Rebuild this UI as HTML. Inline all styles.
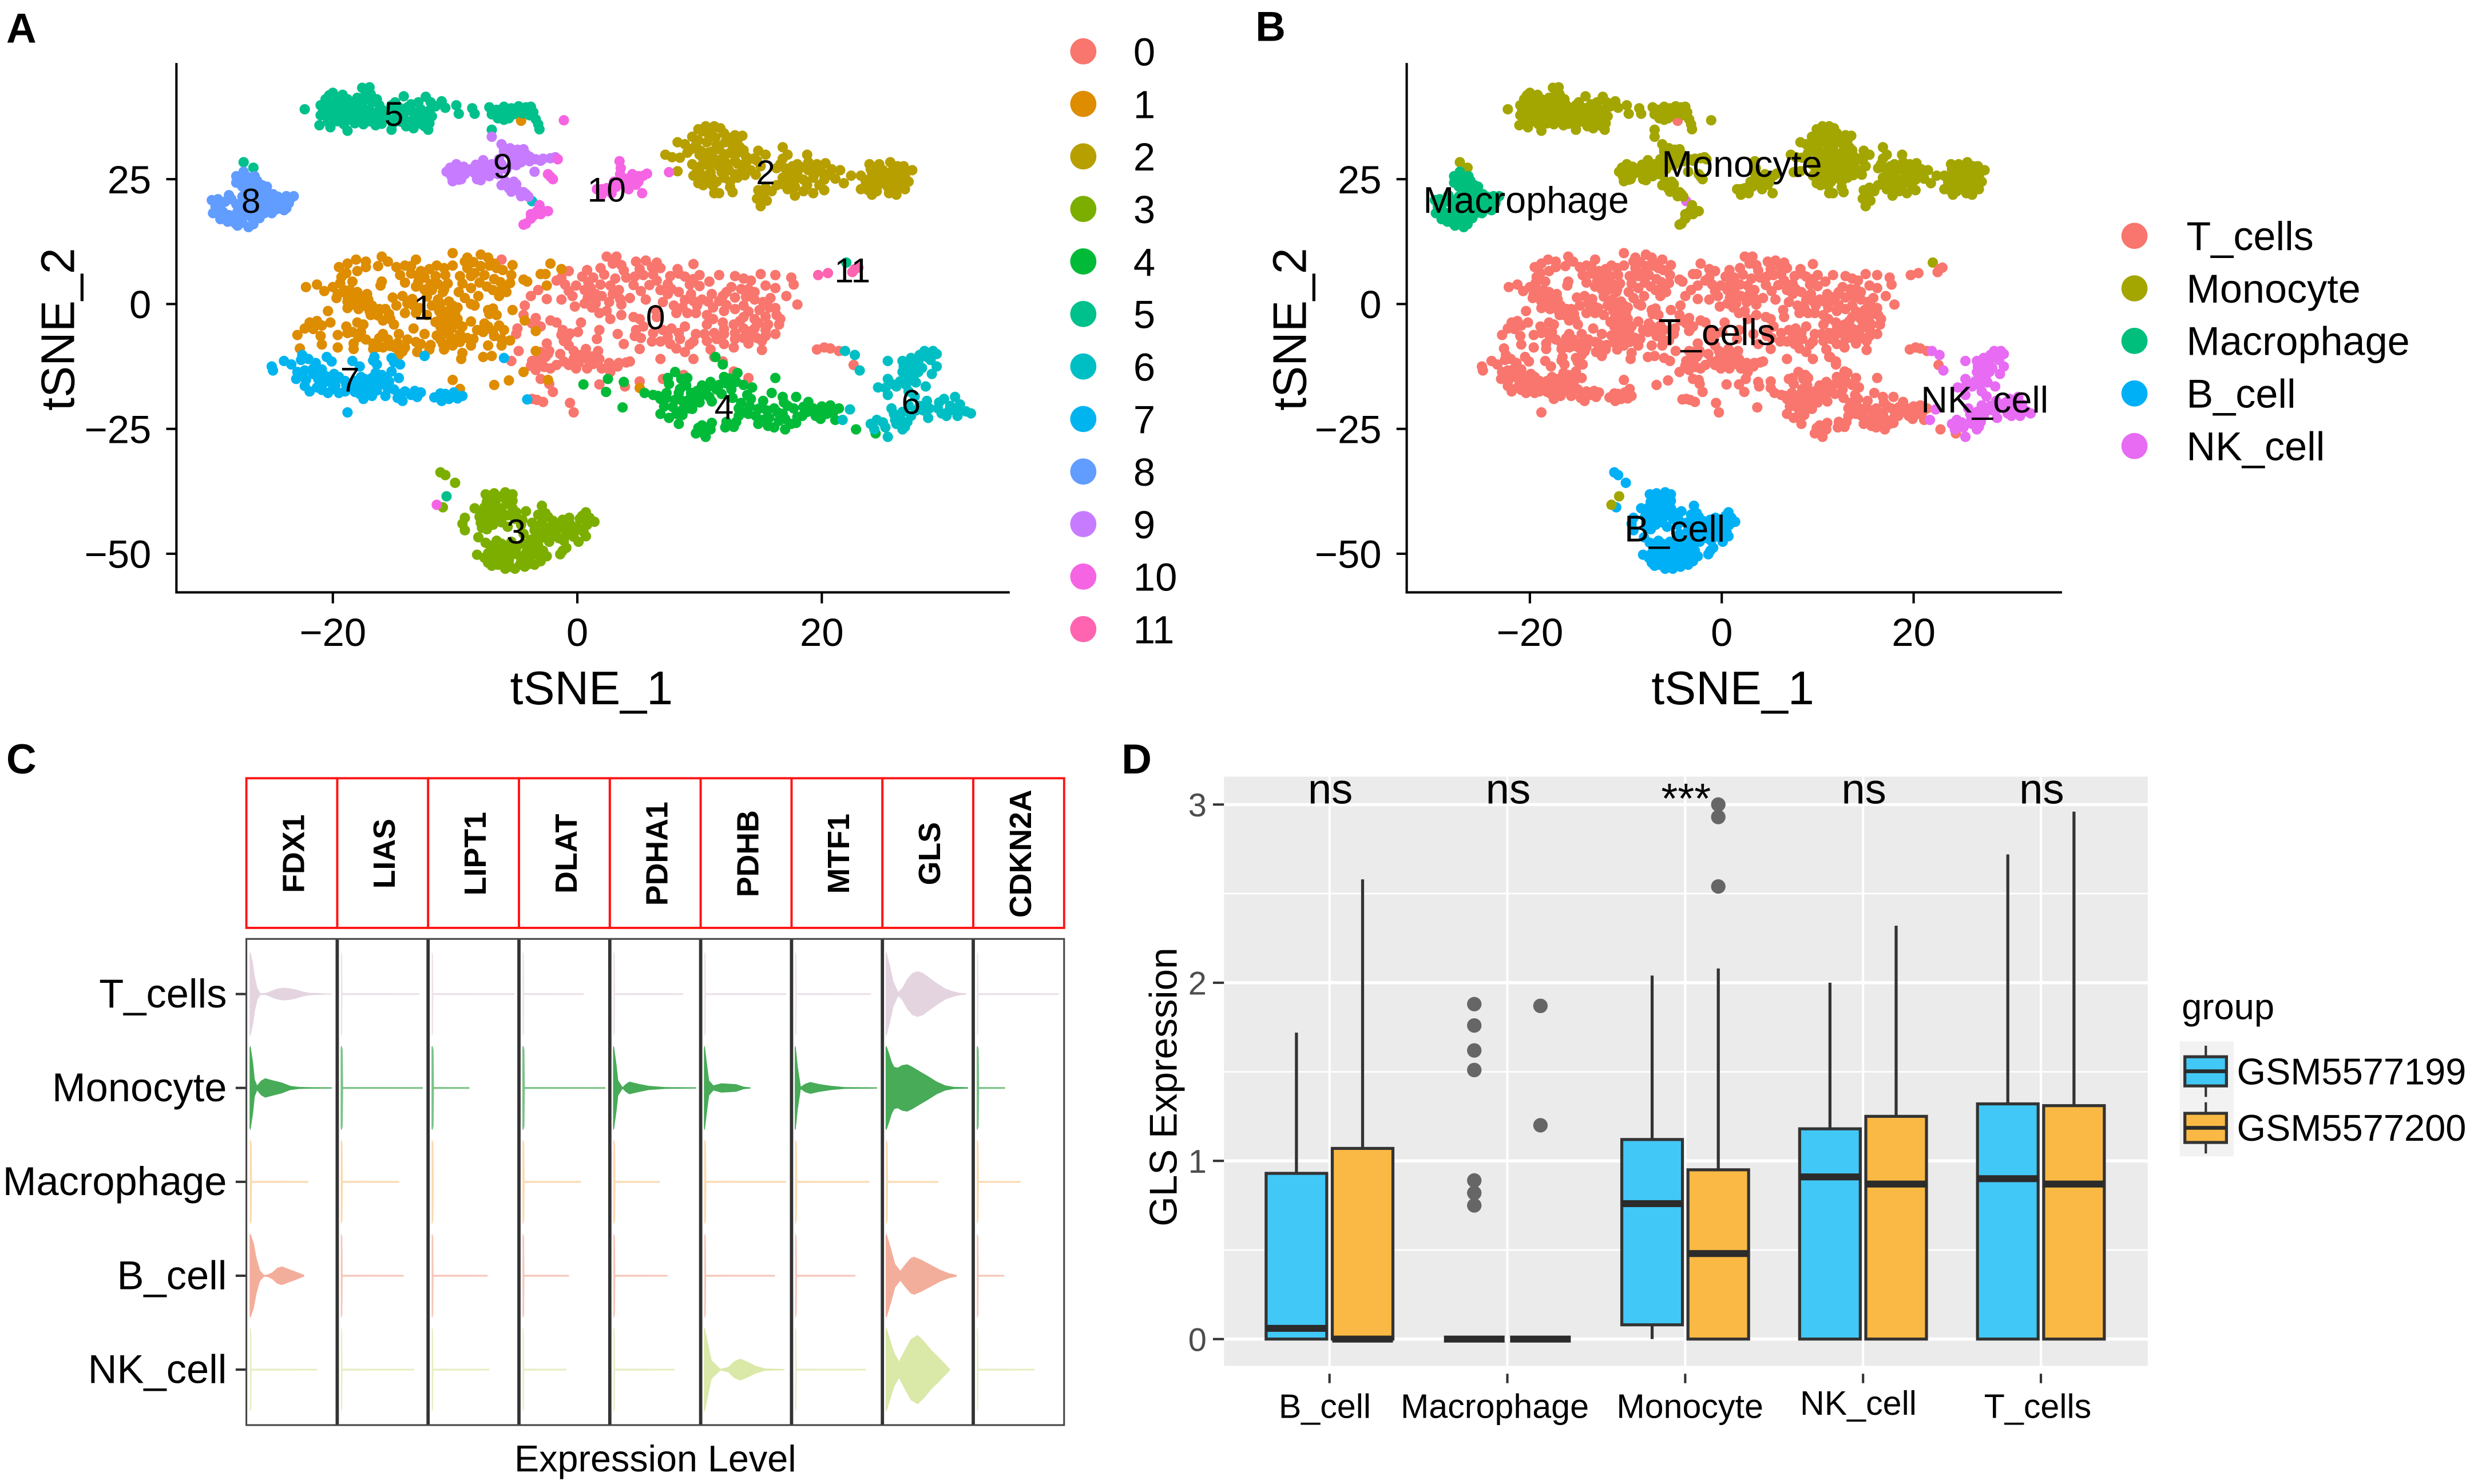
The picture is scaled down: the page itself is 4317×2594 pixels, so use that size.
<!DOCTYPE html>
<html lang="en">
<head>
<meta charset="utf-8">
<title>tSNE clusters, violin plots and GLS expression boxplot</title>
<style>
html,body{margin:0;padding:0;background:#fff;width:4317px;height:2594px;overflow:hidden}
svg{display:block}
text{font-family:"Liberation Sans",sans-serif;fill:#000}
.letter{font-weight:700;font-size:26.5px}
.title{font-size:30px}
.tick{font-size:25px}
.gene{font-weight:700;font-size:19.5px;text-anchor:middle}
</style>
</head>
<body>
<svg id="figure" xmlns="http://www.w3.org/2000/svg" width="4317" height="2594" viewBox="0 0 1568 942" preserveAspectRatio="none">
  <rect x="0" y="0" width="1568" height="942" fill="#fff"/>
  <text class="letter" x="4" y="27">A</text>
  <text class="letter" x="797" y="26">B</text>
  <text class="letter" x="4" y="491">C</text>
  <text class="letter" x="712" y="491">D</text>

  <g id="panelA">
    <line x1="112" y1="40" x2="112" y2="376.7" stroke="#000" stroke-width="1.5"/>
    <line x1="111.3" y1="376" x2="641" y2="376" stroke="#000" stroke-width="1.5"/>
    <text class="title" x="375.5" y="447" text-anchor="middle">tSNE_1</text>
    <text class="title" transform="translate(47,209) rotate(-90)" text-anchor="middle">tSNE_2</text>
  </g>
  <g id="panelB">
    <line x1="893" y1="40" x2="893" y2="376.7" stroke="#000" stroke-width="1.5"/>
    <line x1="892.3" y1="376" x2="1309" y2="376" stroke="#000" stroke-width="1.5"/>
    <text class="title" x="1100" y="447" text-anchor="middle">tSNE_1</text>
    <text class="title" transform="translate(829,209) rotate(-90)" text-anchor="middle">tSNE_2</text>
  </g>
  <g id="panelC">
    <text x="416" y="934" text-anchor="middle" font-size="23.5">Expression Level</text>
  </g>
  <g id="panelD">
    <text transform="translate(747,690) rotate(-90)" text-anchor="middle" font-size="24.5">GLS Expression</text>
    <text x="1385" y="647" font-size="23">group</text>
  </g>
</svg>
<script>
// ---------- tSNE data (in tSNE units) ----------
const cluster0Points=[[2.4,9.5],[3.2,9.5],[2.9,8.1],[3.6,7.8],[1.9,7.2],[4.8,8.5],[5.6,8.7],[6.5,8.3],[6.8,7.2],[6.1,7.4],[5.1,7],[8.2,7],[9.5,8],[10,5.8],[11.6,5.8],[10.8,4.5],[12.9,5.6],[13.6,5.1],[15,6],[14.2,4.7],[16.2,5.8],[17.5,5.3],[17.7,3.9],[16.2,3.2],[17.1,1.6],[18,-0.1],[15.4,3.7],[-0.7,6.6],[0.8,6.8],[1.3,5.3],[0.4,5.5],[-1.3,5.3],[-1.7,4.7],[-1,3.9],[-0.7,2.6],[-1.3,0.9],[-0.4,1.6],[-0.2,-0.5],[1.1,3.2],[0.85,1.25],[1.5,2],[2,1.6],[0.6,0.1],[1.5,0.1],[1.8,-1.8],[2.7,3.7],[2.9,2],[4,5.3],[3.4,2.8],[4.3,1.2],[3.6,-0.1],[4.7,5.5],[5.4,5.8],[5.2,2.6],[5.6,0.9],[6.5,4.7],[6.8,2.8],[7.6,5.6],[7.7,3],[8.8,5.5],[9.2,3.9],[8.3,2.4],[9.3,2],[10.2,0.9],[7.9,-0.3],[8.6,-0.7],[9.7,-1.8],[10.6,-2.2],[9,-1.8],[8.1,-1.8],[11,2],[11.9,1.6],[11.1,-0.7],[12.2,2.4],[12.9,1.3],[13.4,3],[14.5,2.4],[14.5,0.9],[15.7,-0.7],[12,-1.4],[12.9,-1],[13.6,-0.3],[14.9,-1.2],[16.3,-2.2],[13.6,-2.6],[14.5,-3],[16.5,-4.1],[15.6,-4.1],[11.1,-3],[11.9,-3.7],[10.6,-4.1],[12.8,-4.1],[13.6,-4.9],[14.5,-4.9],[16.2,-6],[15.4,-6.4],[14.7,-6.8],[14,-7.9],[15.1,-9.2],[13.6,-6.8],[12.9,-7],[12.8,-8.7],[12,-6],[11.2,-5.8],[12,-8],[9.7,-6],[10.4,-6],[9.5,-7.5],[9.2,-8.1],[10.9,-9.1],[11.9,-11.5],[9.5,-11],[8.8,-9.6],[6.8,-11],[5.1,-9],[8.1,-8.9],[7.6,-8],[6.8,-7.5],[6.1,-7.5],[8.8,-4.5],[8.3,-5.8],[7.7,-4.9],[7,-5.2],[4.7,-6.4],[5.4,-4.5],[5.1,-3],[2.7,-3],[3.6,-2.2],[4.6,-2.6],[6.5,-2.6],[3.3,-6],[3.8,-8],[1.8,-5.2],[1.6,-7],[-3.2,2.8],[-3.8,1.6],[-2.5,1],[-4.3,-0.3],[-4.4,-2.2],[-3.4,-2.8],[-3.7,-3.9],[-4.9,-4.9],[-5,-6],[-3,-4.5],[-2.2,-3.3],[-1.7,-3.7],[0.3,-3.7],[0.05,-5.6],[-1.2,-5.2],[-0.85,-6.8],[-0.7,-8.3],[-2.5,-7.9],[-2.3,-9.4],[-0.3,-9.4],[0.7,-9],[1.7,-9.4],[-4.8,-9.4],[-5.4,-11.4],[-3.7,-11.4],[-3.1,-12.1],[-2.6,-10.6],[-3.4,-13.2],[-2.2,-12.9],[-1.1,-11.5],[-0.3,-11],[-0.1,-12.9],[0.8,-12.9],[0.8,-11],[1.8,-11],[2,-12.9],[2.7,-13.6],[3.3,-12.5],[4,-11.7],[4.3,-11.5],[-3,-15],[-2.3,-16],[-2,-17.6],[5.1,-15.5],[1.8,-16.1],[3.9,-16.5],[7,-15],[8.7,-14.2],[11.9,-11.7],[14,-14.8],[12.8,-13.5],[11.2,-10.6],[-3.3,-19.2],[-2.8,-19.6],[-3.7,-19],[-0.6,-19.8],[-0.3,-21.7],[19.6,-9.1],[20.2,-8.7],[20.7,-8.9],[21.4,-9.4],[22.6,-12.2],[-6.2,8.9],[3.8,6.7],[2.2,5.9],[3.1,5.1],[1.9,3.9],[4.6,3.8],[5.9,3.8],[6.2,5.9],[7.4,4],[8.3,6.1],[9.5,5],[10,3.6],[9.5,0.6],[8.8,0.8],[9.8,-0.3],[7.4,2],[7,0.4],[6.4,-1.2],[10.7,0.5],[11.6,0.6],[12.6,3.4],[12.2,-0.2],[13.8,1.4],[14,3],[15.2,0.4],[15.8,1.2],[16.2,-0.8],[15.4,-2.5],[14,-1.5],[13.3,-3.4],[12,-5],[12.9,-5.8],[14,-5.5],[14.8,-3.8],[15.4,-5.2],[16.6,-3],[15.1,-7.4],[14.3,-6.1],[11.4,-7],[10.6,-7.4],[8.4,-7],[7.4,-6.6],[6.2,-5.8],[5.2,-6.8],[4.8,-5.2],[1.5,1.2],[0.6,2.8],[-0.1,3.7],[0.9,4.4],[1.2,-0.7],[3.5,1],[2.6,0.4],[2.4,-1.4],[-2.4,-10],[-1.7,-12.2],[-3,-9.6],[-3.2,-10.8],[-0.7,-12.2],[-1.4,-10],[0.3,-10.2],[1.2,-10.5],[1.3,-12],[0.1,-11.8],[2.6,-11.8],[3.4,-11.8],[-1.1,-7.4],[-0.6,-5.9],[-2.7,-12.6],[-3.8,-12.4],[-1.3,-6.2]];
const cluster1Points=[[-22.2,3.4],[-21.3,3.9],[-20.7,2.6],[-20,3.4],[-19.5,7.4],[-18.8,8.1],[-18.1,8.9],[-17.3,8.5],[-18.9,6.2],[-18,6.6],[-17.3,7.4],[-16,9.5],[-15.5,8.5],[-16.3,7.6],[-14.8,7.4],[-14.1,7.7],[-13.2,8.9],[-13.6,7.6],[-14.5,5.8],[-14.1,4.3],[-16,4.5],[-16.1,3.7],[-12.8,6.6],[-12.1,7],[-11.5,7.7],[-10.9,7.2],[-12.5,5.3],[-11.6,5.6],[-10.2,10.2],[-10.2,7.7],[-9,9.3],[-7.9,9.9],[-7.3,9.3],[-6.8,8.1],[-5.3,7.8],[-9,7.2],[-7.9,7.6],[-6.1,6.8],[-5.4,5.8],[-9.6,5.6],[-8.7,5.6],[-7.6,5.8],[-6.8,5],[-10.6,4.1],[-9.4,4.1],[-8,4.3],[-13.2,3.5],[-11.9,2.8],[-11,2.4],[-9.7,2.4],[-8.7,3.2],[-8.1,1.6],[-6.9,2.8],[-5.8,2.4],[-6.4,1.6],[-4.4,4.9],[-4.1,4.5],[-3,6],[-2.6,6],[-2.2,8.1],[-1.3,7],[-2.5,3.7],[-19.1,2.8],[-18.6,2.8],[-18,2.4],[-17.2,2],[-19.7,1.2],[-18.8,0.5],[-17.9,0.5],[-17.1,0.9],[-20.4,-1.4],[-18.8,-0.8],[-17.9,-1],[-17,-1.4],[-16.2,-1],[-15.4,-2],[-15.9,-3.3],[-15.1,1.3],[-14.3,1.6],[-14.8,-0.3],[-13.9,0.1],[-13.4,-0.3],[-14.1,-1.8],[-13.2,-1.8],[-12.3,-2.2],[-11.4,0.9],[-10.5,0.5],[-9.8,-0.7],[-11.2,-3],[-10.5,-2.6],[-9.8,-3],[-11.3,-1.4],[-8.7,0],[-8.4,-0.3],[-6.9,-0.9],[-7.2,-2],[-6.6,-2.2],[-5.3,-1.2],[-8.7,-3.5],[-9.4,-4.5],[-10.3,-4.9],[-11.2,-4.5],[-21.9,-3.7],[-20.2,-3.7],[-20.9,-4.3],[-22.3,-4.9],[-22.9,-6.2],[-21,-6.4],[-20.9,-8.1],[-22.7,-8.9],[-19.6,-8.7],[-19.6,-6.2],[-18.9,-4.5],[-18,-3.7],[-17.5,-4.1],[-18.4,-5.6],[-17.7,-5.6],[-18.3,-7.9],[-18.3,-9],[-17.3,-7.1],[-16.7,-7.9],[-16.7,-9],[-15.9,-6],[-15.5,-7.1],[-15.9,-8.7],[-15,-4.1],[-14.6,-6],[-14.9,-8.7],[-14.6,-10.2],[-13.9,-7.1],[-14.1,-8.7],[-13.4,-4.9],[-12.5,-6],[-12.8,-8],[-13.1,-9.6],[-12.1,-9.1],[-11.2,-7.1],[-10.3,-6.8],[-9.6,-6],[-10.9,-9.1],[-10.2,-8.3],[-9,-6.8],[-8.7,-8.3],[-9.4,-9.8],[-9.5,-11],[-7.3,-4.5],[-7.7,-5.6],[-6.8,-6.4],[-6,-5.2],[-5.5,-7.3],[-7.3,-8.3],[-7.7,-10.6],[-7,-10.4],[-6.2,-8.3],[-8.2,-5.2],[-8.5,-7],[-3.4,-9.4],[-3.4,-5.4],[-4.4,-13.6],[-5.6,-15.3],[-6.8,-16.2],[-10.2,-15.2],[-9.6,-17],[-2.4,-15.2],[-4.3,-3.3],[5.1,-16.8],[-4.6,36.7],[-19.3,5.4],[-18.4,4.5],[-19.4,4.2],[-19.6,2],[-18.8,1.5],[-18.2,1.4],[-17.7,1.2],[-18.4,-0.1],[-17.5,-0.3],[-16.8,-0.3],[-16.9,-2.2],[-16.3,-2.3],[-15.7,-1],[-15.3,-3],[-13.6,6.1],[-13,5.6],[-13,4.5],[-12,4],[-10.8,5.8],[-11.4,4],[-10.9,2.9],[-12.5,2.9],[-12.3,1.5],[-13.5,1],[-12.9,-0.8],[-11.9,-0.3],[-11.2,0.1],[-10.2,-0.3],[-10.7,-1.5],[-10,-1.8],[-10.8,-3.8],[-10,-4.1],[-11.6,-3.6],[-9.6,-7.6],[-10.4,-7.7],[-11,-8],[-11.5,-6.3],[-10.8,-5.9],[-12,-8.2],[-9.2,8.5],[-8.5,8.4],[-8.4,6.2],[-7.2,7.7],[-6.6,7.2],[-6.3,4.4],[-5.9,3.5],[-5.5,4.2],[-6.2,2.8],[-7.4,3.5],[-9.2,1.2],[-7.3,-1.2],[-7.6,-3.9],[-6.4,-4.3],[-6.9,-5.4],[-6.2,-7],[-16.3,-8.6],[-15.3,-8.4],[-16.2,-6.8],[-14.7,-7.8],[-14.3,-9.5],[-13.2,-7.6],[-17.9,-6.6],[-18.8,-5.8],[-21.6,-5],[-21.3,-3.4]];
const cluster2Points=[[7.2,29.9],[7.75,29.4],[8.4,29.3],[8.2,26.6],[9.9,35],[10.5,35.6],[11.2,35.6],[11.7,35.2],[13.5,33.7],[12.5,33.3],[13.1,32.8],[9.4,33.5],[8.2,32.4],[8.8,32],[9.7,31.8],[10.7,34.1],[11.3,33.3],[11.4,31.8],[10.1,30.7],[10.7,30.3],[11.6,31],[12.7,31.8],[13.3,31.4],[12.5,30.3],[13.1,30.3],[9,30.3],[13.8,29.5],[14.8,30.7],[15.4,29.9],[14.4,29.1],[10.3,29.1],[11.2,29.1],[12,29.1],[12.9,28.7],[9.4,28],[10.1,27.6],[10.8,27.6],[11.6,27.6],[12.3,28],[13.5,27.2],[14.2,26.8],[15,27.6],[9.5,25.7],[10.3,25.7],[11,25.3],[11.8,26.4],[12.9,26],[9.9,24.2],[10.5,24.9],[11.4,24.5],[12.5,24.5],[13.1,25.3],[12.5,23.4],[12.7,22.4],[11.2,22.2],[11.6,22.2],[16.8,31.4],[17.2,29.9],[16.8,29.1],[18.8,29.9],[16.3,27.2],[17,27.2],[18,28],[18.9,28.4],[19.6,28],[20.3,28.2],[18,26.4],[18.9,26.8],[20,26.4],[16.8,25.3],[17.6,24.5],[18.5,24.9],[19.3,25.3],[20.2,24.9],[16.3,23.8],[17.2,23],[17.8,21.7],[18.5,22.6],[19.3,22.2],[20.2,22.8],[15.9,22.6],[14.8,22.8],[14.7,21.1],[15.5,20.7],[15,19.6],[15.2,21.9],[21.1,25.1],[21.5,26.8],[21.8,24.2],[22.4,25.7],[23.9,28],[25.6,28.4],[26.7,27.6],[27.4,26.8],[23.2,25.7],[24.1,26.4],[25,26.8],[25.8,26.8],[26.8,25.7],[23.2,23],[24.1,23.8],[24.1,21.9],[25,24.5],[24.5,22.6],[26.1,21.9],[26.8,23],[25.8,24.2],[26.5,24.2],[27.1,24.5],[23.6,24.5],[24.7,28],[26.2,27.6],[10.2,34.6],[11,34.8],[12,34.2],[12.9,33.8],[9.9,32.8],[10.6,32.4],[12.1,32.4],[12.6,32.8],[9.3,31],[10,29.9],[11,30.5],[12,30],[13.6,30.8],[11.7,28.8],[10.6,28.6],[9.8,26.8],[10.9,26.4],[12.4,26.8],[13.1,28.1],[13.8,28.3],[14.7,28.7],[14.6,25.9],[13.7,25.8],[12,25.3],[10.3,23.8],[11.1,23.7],[16.6,28],[17.6,27.6],[18.4,27.4],[19.3,27.3],[17.5,26.2],[19.4,26.1],[20.7,25.9],[17.3,25.6],[18.1,25.3],[19.8,23.8],[18.8,23.8],[17.8,23.5],[16.8,24],[15.4,23.3],[20.8,27],[24.6,27.2],[25.2,25.8],[24.6,25.3],[23.9,25],[25.6,25.3],[26.2,25.9],[26.9,26.6],[25.4,23.4],[24.7,24],[23.8,22.8],[26.1,23],[25.5,22.2],[26.4,24.8],[24,27]];
const cluster3Points=[[-11.2,-33.7],[-10.8,-34.25],[-10,-35.8],[-11,-40.7],[-7.5,-38.1],[-6.8,-37.9],[-5.9,-37.7],[-5.3,-38.1],[-7.4,-39.6],[-6.7,-39.6],[-5.9,-39],[-5.3,-39.4],[-8.4,-40.9],[-7.8,-41.9],[-7,-41.5],[-6.2,-40.9],[-4.2,-41.5],[-5,-41.7],[-5.7,-42.3],[-6.7,-43],[-7.4,-43.4],[-7.9,-43.8],[-7.4,-45.1],[-9.2,-42.8],[-9.4,-44],[-9.2,-45.3],[-8.1,-46.7],[-8.2,-50.2],[-5.7,-44.6],[-2.9,-40.4],[-2.6,-41.9],[-3.7,-43.8],[-2.9,-43.8],[-2,-43.4],[-1.2,-43.2],[-0.66,-42.8],[0.7,-41.7],[0.2,-43],[1.4,-43.6],[0.8,-44.2],[-0.1,-45.3],[-0.7,-46.1],[-1.7,-45.3],[-2.6,-45.7],[-3.5,-45.3],[-2.3,-47.6],[-1.5,-46.9],[0.1,-47.6],[0.7,-46.5],[-0.9,-48.8],[-1.4,-50.1],[-2.5,-50.5],[-7.1,-48.4],[-6.2,-48],[-5.4,-47.6],[-7.3,-49.9],[-6.7,-49.5],[-5.9,-49.9],[-5,-48.8],[-4,-48.6],[-3.2,-48.4],[-7.3,-51.8],[-6.5,-52.2],[-5.9,-53],[-5.1,-53],[-4.3,-52.6],[-3.5,-52.2],[-3.2,-50.3],[-5.6,-51.4],[-4.6,-51],[-3.9,-50.7],[-6.4,-50.7],[-4.4,-46],[-3.3,-46.6],[-4.6,-44.2],[-1,-44.8],[-6.6,-51.2],[-6.9,-50.8],[-7,-38.8],[-6.2,-38.5],[-5.6,-40],[-6.9,-40.6],[-7.6,-40.7],[-8,-42.6],[-7.1,-42.4],[-6.3,-42],[-5.3,-40.9],[-6.9,-44.2],[-7.8,-44.8],[-6.2,-43.7],[-5.1,-43],[-4.5,-43.2],[-3.2,-42.2],[-2.4,-42.6],[-3.3,-45],[-2.2,-44.6],[-1.5,-44.2],[-0.6,-44],[0,-44.6],[0.4,-42.4],[1,-42.8],[-0.3,-46.6],[-1.1,-47.4],[-1.9,-46.3],[-2.9,-46.8],[-3.8,-47.2],[-0.9,-45.6],[0.5,-45.6],[-6.6,-47.4],[-7.5,-47.8],[-7.6,-50.8],[-7,-52.4],[-6.1,-52],[-5.5,-52.6],[-4.7,-52.2],[-3.9,-52],[-3,-51.5],[-3.2,-49.4],[-4.2,-49.8],[-5,-50],[-5.5,-50.5],[-6.1,-48.9],[-6.9,-49],[-3.6,-49.6],[-2.8,-49.4],[-4.4,-48],[-5.7,-49],[-1.2,-49.4]];
const cluster4Points=[[0.5,-16.1],[2.35,-17.6],[3.7,-20.7],[2.5,-15],[3.8,-15.6],[11.3,-10.6],[11.9,-12.1],[8,-13.6],[7.4,-14.8],[7.5,-16],[9,-14.8],[8.9,-16.3],[13.1,-13.8],[12,-14.6],[16.2,-14.8],[5.5,-17.8],[6.2,-18.2],[7.3,-17.8],[6.8,-19],[7.1,-20.5],[8.3,-17.8],[8.6,-19.4],[9.6,-19.4],[10.2,-16.3],[10.9,-15.6],[11.4,-17.1],[10.2,-18.2],[12.2,-15.9],[13,-15.6],[14.3,-16.7],[13.9,-18.2],[12.7,-18.8],[9.1,-20.9],[8.1,-22],[6.8,-22],[7.5,-22.8],[8.3,-24],[10.2,-24.3],[9.7,-25.9],[10.5,-26.6],[10.9,-25.1],[12.1,-24.7],[12.2,-23.6],[13,-23.6],[13.2,-20.9],[14.1,-20.5],[14.6,-22.4],[13.6,-21.7],[15.9,-17.8],[15.2,-19.4],[16.8,-18.6],[16.9,-19.7],[17.9,-18.6],[16.1,-20.9],[15.7,-22.8],[16.1,-24.7],[17,-25.1],[17.5,-24],[16.8,-22],[17.7,-20.9],[18.9,-19.6],[18.4,-22.4],[19.3,-20.9],[20,-20.5],[20.7,-20.3],[21.4,-20.9],[20.4,-22],[21.1,-23.2],[19.5,-22.4],[15.5,-21.3],[14.8,-24],[22.8,-25.1],[24.4,-25.9],[9.8,-17.4],[11,-19.5],[8.6,-21.2],[8.5,-15],[8.4,-17],[9.3,-17.8],[9.2,-19],[8,-19.2],[7.8,-20.6],[7.3,-18.8],[6.6,-18.4],[10,-17.2],[10.6,-16.8],[11,-16.4],[11.6,-16.2],[12.4,-14.9],[12.6,-17.1],[11.8,-18],[10.8,-18.6],[10,-19.7],[9.4,-21],[8.6,-22.2],[13.6,-16.2],[13.4,-19.8],[14.2,-19],[14.8,-21],[14,-22],[13.2,-22.4],[12.8,-24.6],[15,-20.8],[15.2,-23.2],[15.6,-24.4],[16.5,-23.4],[16.4,-21.7],[17.2,-20.4],[17,-23],[18,-22.6],[18.5,-20.6],[18.8,-21.6],[19.9,-21.2],[20.7,-21.6],[19.9,-23],[21,-21.4],[10,-25.2],[9.9,-24.8],[11,-23.8],[10.4,-26.1],[17.9,-23.8]];
const cluster5Points=[[-22.3,39],[-17.6,43.3],[-17,43.4],[-20,42.3],[-19.2,41.9],[-20.6,41],[-19.8,40.8],[-18.8,41],[-18,41.3],[-17.4,41.6],[-16.8,40.5],[-16.2,39.8],[-21,39.8],[-20.5,39.5],[-19.7,39],[-18.9,39.5],[-18.2,39.8],[-17.6,39.8],[-17,38.9],[-15.9,38.8],[-15.2,39.8],[-14.6,39.4],[-14.2,41.6],[-13.6,40],[-13,40.4],[-12.4,41.5],[-12,40.4],[-11.6,39.6],[-11.1,40.6],[-10.8,39.3],[-12.8,39],[-13.5,38.6],[-14.2,38],[-21,37.8],[-20.3,37.5],[-19.8,37.8],[-19.2,37.6],[-18.4,38],[-17.8,37.4],[-17,37.4],[-16.3,37],[-15.6,37.4],[-15,37],[-14.4,36.5],[-13.4,37],[-12.6,37.4],[-11.9,37.6],[-21.1,35.8],[-20.2,35.4],[-18.8,34.7],[-19.1,36],[-18.2,36.2],[-17.5,36],[-16.5,35.8],[-15.2,34.9],[-14,35.6],[-13.4,35.2],[-12.2,34.9],[-12.7,36],[-12.1,36.2],[-9.9,39.8],[-9.7,38.1],[-8.6,39.2],[-8.4,38.1],[-7.2,39.4],[-6.6,38.9],[-6,39.5],[-5.4,39.2],[-4.8,39.6],[-4.2,39.4],[-3.8,39.5],[-7,38],[-6.5,37.2],[-5.9,37.8],[-5.2,38],[-4.5,38.2],[-3.9,37.8],[-3.4,37],[-3.2,36],[-3.1,35],[-7,34.9],[-27.3,28.4],[-26.5,27.3],[22,8.3],[-10.7,-38.5],[-20.8,38.6],[-20,38.7],[-19.3,38.5],[-18.6,38.8],[-17.9,38.7],[-17.3,38.4],[-16.5,38.2],[-15.6,38.4],[-14.8,38.5],[-14.9,40.4],[-13.9,39.4],[-13,37.9],[-12.2,38.6],[-11.9,39.4],[-20.2,40.2],[-19.2,40.4],[-18.4,40.2],[-17.6,40.6],[-16.4,41],[-16.9,42],[-20.3,41.8],[-20.4,36.5],[-19.6,36.6],[-18.6,36.9],[-17,36.6],[-16,36.1],[-15.1,36.1],[-14.1,36.9],[-13.2,36.1],[-12.5,35.6],[-6.8,38.6],[-6.2,38.2],[-5.6,38.4],[-4.9,38.7],[-4.2,38.6],[-5.6,37.2],[-6,36.9],[-3.6,38.4]];
const cluster6Points=[[22.3,-21.1],[21.7,-23.2],[21.9,-9.4],[22.7,-10.2],[23.1,-13.3],[25.4,-11.4],[29.1,-9.4],[28.4,-9.4],[29.4,-10],[28.6,-10.6],[27.3,-10.8],[26.6,-11.4],[27.9,-11.4],[26.7,-12.5],[27.4,-12.1],[29.4,-12.5],[29,-14],[26.6,-13.6],[27.9,-13.6],[27.1,-14.6],[25.4,-15],[24.6,-16.7],[26.1,-16.5],[25.4,-18.2],[27.7,-15.7],[28.5,-16.5],[27.1,-17.5],[28.6,-19.4],[28.8,-20.9],[30,-19],[30.9,-18.6],[31.3,-20.1],[32.2,-21.9],[31.8,-21.5],[31.1,-22.4],[30.2,-22.4],[28.7,-22.8],[29.5,-20.9],[27.7,-21.3],[27.3,-22.4],[26.6,-25.1],[27,-23.6],[25.9,-22],[26.1,-24],[25.2,-24.7],[25.4,-26.6],[24.5,-23.2],[24,-24],[24.3,-25.1],[25.7,-20.9],[-3.7,20.6],[28,-10.2],[28.9,-11.2],[27.5,-12.8],[28.2,-12.8],[26.9,-13.4],[27.5,-14.8],[26.4,-15.5],[26.9,-16.2],[25.7,-16],[25.2,-16.8],[27.6,-18.5],[28,-20.4],[28.3,-21.3],[29.6,-19.7],[30.5,-20.4],[30.4,-21.4],[29.8,-21.9],[31,-21],[27.1,-20.3],[26.6,-21.6],[26.4,-22.8],[26,-23.2],[25,-23.7],[26.8,-24.6]];
const cluster7Points=[[-25,-12.5],[-24.9,-13.3],[-24,-11.4],[-23.4,-12.1],[-22.5,-10.2],[-22,-11],[-22.9,-13.6],[-22.3,-13.3],[-21.6,-12.9],[-20.9,-13.1],[-20.5,-10.6],[-20.1,-11.5],[-23,-15],[-22.2,-15.2],[-21.9,-17.5],[-20.9,-16.3],[-20.2,-15.2],[-19.5,-14.6],[-20.4,-17.8],[-19.5,-17.8],[-18.9,-16.3],[-18.4,-11.4],[-17.8,-12.5],[-17.7,-14.6],[-18,-16.9],[-17.5,-19],[-17.3,-16.7],[-16.6,-10.6],[-16.4,-12.1],[-15.2,-10.8],[-14.5,-12.1],[-15.2,-13.5],[-14.6,-14.8],[-16,-14.2],[-16.8,-14.8],[-15.9,-16],[-16.8,-18.4],[-15.7,-18.4],[-15,-17.1],[-14.3,-19.4],[-14.1,-17.5],[-13.6,-18.2],[-12.8,-17.7],[-11.1,-19.4],[-11.2,-17.9],[-10.5,-19],[-10.1,-17.7],[-9.4,-18.4],[-18.8,-21.7],[-16.6,-16.3],[-19.8,-16.3],[-20.5,-15.5],[-21.3,-16.7],[-18.6,-16.7],[-6,-10.8],[-4.1,-19.1],[-12.5,-10.4],[-22.6,-11.2],[-21.4,-11.8],[-22.8,-14.4],[-21.6,-14],[-22.3,-16.4],[-20.6,-14.4],[-21.2,-15],[-19.9,-14],[-19.8,-15.4],[-20,-17],[-20.9,-17.2],[-19,-15.4],[-19,-17.5],[-18.2,-15.4],[-17.7,-16],[-17.4,-15],[-17,-15.7],[-16.5,-13.8],[-16.2,-15.4],[-15.6,-14.8],[-15.4,-15.5],[-16.4,-17.3],[-17,-17.8],[-17.8,-18],[-18.2,-17.6],[-15.5,-17],[-14.6,-18],[-13.3,-17.4],[-13.1,-18.6],[-14.7,-18.8],[-11.7,-18.7],[-10.8,-18],[-9.8,-18.9],[-16.7,-11.3],[-15,-11.6]];
const cluster8Points=[[-27.3,26.5],[-27.7,25],[-27,25.5],[-26.8,24.3],[-26.2,24.7],[-25.8,23.8],[-26.5,23],[-25.5,22.5],[-27.4,23.5],[-26,22],[-25.6,21],[-25,20.8],[-24.5,21.5],[-24.1,20],[-23.5,21],[-23.2,21.6],[-23.8,19.2],[-24.6,19],[-25.2,19.5],[-26.2,20.5],[-26.5,19],[-25.6,18.2],[-29.9,20.8],[-29.4,21],[-28.8,20.5],[-28.3,21],[-27.9,20],[-29.6,19.5],[-29.8,18.2],[-29,18.5],[-28.5,17.8],[-27.8,18.5],[-27.2,17.8],[-26.6,17.2],[-29.2,17],[-28.6,16.5],[-28,16.2],[-27.4,16.3],[-26.9,15.4],[-26.5,16],[-27.6,19],[-26.9,20.5],[-27.4,21.5],[-26.7,22],[-25.9,19],[-27.9,25.6],[-27.2,24.6],[-26.4,25.6],[-27.9,24.3],[-26,23.2],[-25.4,23.5],[-26.8,23.6],[-25.2,21.8],[-24.6,20.4],[-24.9,22],[-23.8,21.6],[-23.6,20.2],[-24,18.8],[-25,18.2],[-26,19.8],[-26.4,21.4],[-26,17.2],[-27,19.2],[-27.2,20.2],[-28,17.4],[-28.8,17.4],[-29.5,18.9],[-28.5,21.8],[-29.2,20],[-27.5,17],[-27.8,15.7],[-26.4,18.3]];
const cluster9Points=[[-10.7,26.5],[-10.3,25.6],[-10.1,27],[-9.8,26],[-9.9,28],[-9.5,25],[-9.2,26],[-9.3,27.5],[-10.2,24.6],[-8.7,27],[-8.2,25],[-8,27.5],[-7.8,26],[-7.7,28.8],[-7.4,27],[-7.2,25.6],[-6.9,26.5],[-6.5,26],[-6.6,27.5],[-6.4,29],[-5.8,27],[-6,30.5],[-5.5,31.2],[-6.2,32],[-5.4,29.6],[-5,29.3],[-4.7,30.5],[-4.4,31],[-4.2,30],[-3.9,29.5],[-5.3,28],[-4.6,28.4],[-3.4,29],[-2.8,29.1],[-2.2,29.2],[-1.8,29.4],[-3.5,26.5],[-7,33.5],[-6.2,23.8],[-5.6,23.2],[-5,24],[-5.4,22.5],[-4.8,22.6],[-4.4,22.4],[-4.6,21.6],[-4,21.5],[-5.9,24.6],[-10.4,27.3],[-9.6,27],[-9.7,24.9],[-8.4,26.2],[-7.9,24.8],[-8.3,27.9],[-7,28],[-6.2,28],[-5,27.8],[-5.6,30],[-4.9,30.9],[-6,31],[-3.9,28.6],[-3,28.7],[-5,22.9],[-4.2,22],[-5.7,24],[-5.2,24.5]];
const cluster10Points=[[3.45,28.6],[3.55,27.2],[4.5,26],[5.7,26.1],[5.4,25.7],[5,24.5],[4.3,23.8],[3.7,24.2],[5.3,22.2],[3,24.5],[2,23],[1.6,23],[2.4,23.2],[2,21.9],[2.8,22.2],[7.5,26.4],[4.1,25.1],[4.7,25.1],[4.2,23],[-2.2,25.5],[-2,25],[-2.4,26],[-1.6,29],[-3.1,19.8],[-2.4,18.6],[-2.9,18.8],[-3.6,17.7],[-4.2,16.1],[-4.4,15.9],[-3.8,17.1],[-3.3,18.6],[-1.1,36.8],[-11.5,-40.2],[3.2,23.5],[3.6,25],[4.5,24.6],[5,25.6],[2.8,23.2],[1.9,22.6],[4.8,23.9],[3.5,26],[-3,18],[-3.8,18]];
const cluster11Points=[[19.7,5.8],[20.5,6.2],[22.7,7],[23,7.3],[22.5,6.4]];
const clusterPoints=[cluster0Points,cluster1Points,cluster2Points,cluster3Points,cluster4Points,cluster5Points,cluster6Points,cluster7Points,cluster8Points,cluster9Points,cluster10Points,cluster11Points];
const clusterNames=['0','1','2','3','4','5','6','7','8','9','10','11'];
const clusterColors=['#F8766D','#DE8C00','#B79F00','#7CAE00','#00BA38','#00C08B','#00BFC4','#00B4F0','#619CFF','#C77CFF','#F564E3','#FF64B0'];
const clusterLabelX=[6.4,-12.6,15.4,-5,12,-15,27.3,-18.6,-26.7,-6.1,2.4,22.5];
const clusterLabelY=[-2.5,-0.6,26.5,-45.4,-20.5,38.2,-19.5,-15,20.8,27.8,23,6.9];
const cellTypeNames=['T_cells','Monocyte','Macrophage','B_cell','NK_cell'];
const cellTypeColors=['#F8766D','#A3A500','#00BF7D','#00B0F6','#E76BF3'];
const clusterCellType=[0,0,1,3,0,1,4,0,2,1,1,0];
const cellTypeLabelX=[-0.5,2.1,-20.4,-4.9,27.4];
const cellTypeLabelY=[-5.7,28,20.8,-45,-19.2];
const tsneXTicks=[-20,0,20];
const tsneYTicks=[25,0,-25,-50];

// ---------- violin data ----------
const geneNames=['FDX1','LIAS','LIPT1','DLAT','PDHA1','PDHB','MTF1','GLS','CDKN2A'];
const violinRowNames=['T_cells','Monocyte','Macrophage','B_cell','NK_cell'];
const violinRowColors=['#E4D4E0','#47AB58','#F9CB92','#F3AE9B','#DAE8A8'];
const tCellMax=[0.94,0.90,0.95,0.70,0.80,0.94,0.87,0.92,0.94];
const monocyteMax=[0.94,0.94,0.43,0.95,0.95,0.53,0.94,0.94,0.32];
const macrophageMax=[0.67,0.67,0,0.67,0.53,0.94,0.85,0.6,0.5];
const bCellMax=[0.62,0.72,0.64,0.53,0.62,0.81,0.69,0.81,0.31];
const nkCellMax=[0.77,0.84,0.66,0.50,0.70,0.92,0.81,0.73,0.66];
const violinMax=[tCellMax,monocyteMax,macrophageMax,bCellMax,nkCellMax];
const spikeThickness=[0.010,0.016,0.014,0.012,0.010];
const fdx1TShape=[[-0.01,0.96],[0,1],[0.03,0.72],[0.05,0.42],[0.08,0.14],[0.115,0.02],[0.16,0.02],[0.2,0.04],[0.28,0.11],[0.34,0.14],[0.39,0.15],[0.46,0.135],[0.52,0.11],[0.6,0.06],[0.68,0.03],[0.84,0.016],[0.94,0.01]];
const fdx1MonoShape=[[-0.01,0.96],[0,1],[0.03,0.6],[0.05,0.2],[0.077,0.06],[0.12,0.17],[0.17,0.23],[0.26,0.18],[0.36,0.13],[0.46,0.05],[0.56,0.025],[0.68,0.018],[0.94,0.014]];
const fdx1BShape=[[-0.01,0.96],[0,1],[0.04,0.76],[0.07,0.42],[0.11,0.13],[0.157,0.02],[0.2,0.03],[0.25,0.08],[0.31,0.19],[0.365,0.22],[0.44,0.16],[0.52,0.1],[0.58,0.05],[0.62,0.02]];
const pdha1MonoShape=[[-0.01,0.96],[0,1],[0.03,0.55],[0.05,0.18],[0.1,0.02],[0.14,0.1],[0.18,0.15],[0.28,0.1],[0.4,0.05],[0.6,0.02],[0.95,0.014]];
const pdhbMonoShape=[[-0.01,0.96],[0,1],[0.03,0.5],[0.05,0.18],[0.1,0.06],[0.19,0.11],[0.28,0.1],[0.36,0.09],[0.45,0.03],[0.53,0.012]];
const pdhbNKShape=[[-0.01,0.96],[0,1],[0.04,0.6],[0.08,0.22],[0.18,0.02],[0.27,0.06],[0.34,0.2],[0.41,0.26],[0.5,0.18],[0.59,0.09],[0.7,0.025],[0.92,0.014]];
const mtf1MonoShape=[[-0.01,0.96],[0,1],[0.025,0.5],[0.06,0.03],[0.11,0.1],[0.17,0.14],[0.28,0.09],[0.41,0.05],[0.57,0.02],[0.94,0.014]];
const glsTShape=[[-0.01,0.96],[0,1],[0.04,0.68],[0.08,0.3],[0.136,0.05],[0.18,0.14],[0.24,0.36],[0.3,0.5],[0.36,0.54],[0.42,0.5],[0.5,0.38],[0.58,0.26],[0.68,0.13],[0.76,0.07],[0.84,0.03],[0.92,0.014]];
const glsMonoShape=[[-0.01,0.96],[0,1],[0.03,0.82],[0.06,0.62],[0.09,0.5],[0.13,0.48],[0.18,0.54],[0.24,0.56],[0.3,0.5],[0.38,0.4],[0.48,0.28],[0.58,0.15],[0.68,0.06],[0.78,0.025],[0.94,0.018]];
const glsBShape=[[-0.01,0.96],[0,1],[0.05,0.66],[0.1,0.28],[0.16,0.12],[0.22,0.28],[0.28,0.42],[0.32,0.45],[0.4,0.38],[0.52,0.25],[0.62,0.14],[0.72,0.06],[0.81,0.02]];
const glsNKShape=[[-0.01,0.96],[0,1],[0.05,0.66],[0.09,0.4],[0.144,0.2],[0.2,0.42],[0.28,0.72],[0.36,0.82],[0.44,0.66],[0.52,0.46],[0.6,0.3],[0.68,0.13],[0.73,0.02]];
const violinShapes={'0-0':fdx1TShape,'1-0':fdx1MonoShape,'3-0':fdx1BShape,'1-4':pdha1MonoShape,'1-5':pdhbMonoShape,'4-5':pdhbNKShape,'1-6':mtf1MonoShape,'0-7':glsTShape,'1-7':glsMonoShape,'3-7':glsBShape,'4-7':glsNKShape};

// ---------- boxplot data ----------
const boxCategories=['B_cell','Macrophage','Monocyte','NK_cell','T_cells'];
const boxGroups=['GSM5577199','GSM5577200'];
const boxGroupColors=['#42C8F6','#F9B944'];
const q1Blue=[0,0,0.08,0,0];
const medianBlue=[0.06,0,0.76,0.91,0.9];
const q3Blue=[0.93,0,1.12,1.18,1.32];
const whiskerHighBlue=[1.72,0,2.04,2,2.72];
const whiskerLowBlue=[0,0,0,0,0];
const outliersBlue=[[],[1.88,1.76,1.62,1.51,0.89,0.82,0.75],[],[],[]];
const q1Orange=[0,0,0,0,0];
const medianOrange=[0,0,0.48,0.87,0.87];
const q3Orange=[1.07,0,0.95,1.25,1.31];
const whiskerHighOrange=[2.58,0,2.08,2.32,2.96];
const whiskerLowOrange=[0,0,0,0,0];
const outliersOrange=[[],[1.87,1.2],[3,2.93,2.54],[],[]];
const significance=['ns','ns','***','ns','ns'];
const boxMajorTicks=[0,1,2,3];
const boxMinorTicks=[0.5,1.5,2.5];

// ---------- helpers ----------
const NS='http://www.w3.org/2000/svg';
function add(parent,tag,attrs,txt){
  const el=document.createElementNS(NS,tag);
  for(const k in attrs)el.setAttribute(k,attrs[k]);
  if(txt!==undefined)el.textContent=txt;
  parent.appendChild(el);
  return el;
}

// ---------- scatter panels ----------
const yTsne=v=>193-3.17*v;
function drawScatterPanel(panel,prefix,xTsne,colorOf){
  const ticksX=add(panel,'g',{});
  
  
  tsneXTicks.forEach(t=>{
    const tk=add(ticksX,'line',{x1:xTsne(t),x2:xTsne(t),y1:376,y2:383,stroke:'#000','stroke-width':1.5});
    
    
    const lb=add(ticksX,'text',{x:xTsne(t),y:410,'text-anchor':'middle','class':'tick'},String(t).replace('-','\u2212'));
    
    
  });
  const ticksY=add(panel,'g',{});
  
  
  const axisX=prefix==='panel-a'?112:893;
  tsneYTicks.forEach(t=>{
    const tk=add(ticksY,'line',{x1:axisX-6.5,x2:axisX,y1:yTsne(t),y2:yTsne(t),stroke:'#000','stroke-width':1.5});
    
    
    const lb=add(ticksY,'text',{x:axisX-16,y:yTsne(t)+9,'text-anchor':'end','class':'tick'},String(t).replace('-','\u2212'));
    
    
  });
  clusterPoints.forEach((pts,c)=>{
    const g=add(panel,'g',{fill:colorOf(c)});
    
    
    pts.forEach(p=>{
      const dot=add(g,'circle',{cx:xTsne(p[0]).toFixed(2),cy:yTsne(p[1]).toFixed(2),r:3.3});
      
      
    });
  });
}
const panelA=document.getElementById('panelA');
const panelB=document.getElementById('panelB');
const xA=v=>366.5+7.76*v;
const xB=v=>1093+6.09*v;
drawScatterPanel(panelA,'panel-a',xA,c=>clusterColors[c]);
drawScatterPanel(panelB,'panel-b',xB,c=>cellTypeColors[clusterCellType[c]]);

clusterNames.forEach((n,i)=>{
  const t=add(panelA,'text',{x:xA(clusterLabelX[i]),y:yTsne(clusterLabelY[i])+8,'text-anchor':'middle','font-size':22},n);
  
  
  const y=32.6+33.34*i;
  const dot=add(panelA,'circle',{cx:687.7,cy:y,r:8.3,fill:clusterColors[i]});
  
  
  const lb=add(panelA,'text',{x:719.5,y:y+9,'font-size':25},n);
  
  
});
cellTypeNames.forEach((n,i)=>{
  const t=add(panelB,'text',{x:xB(cellTypeLabelX[i]),y:yTsne(cellTypeLabelY[i])+8,'text-anchor':'middle','font-size':23.5},n);
  
  
  const y=149.7+33.35*i;
  const dot=add(panelB,'circle',{cx:1355,cy:y,r:8.3,fill:cellTypeColors[i]});
  
  
  const lb=add(panelB,'text',{x:1388,y:y+9,'font-size':25.5},n);
  
  
});

// ---------- violin panel ----------
const panelC=document.getElementById('panelC');
const colLeft=i=>156.4+57.68*i;
const rowY=r=>631+59.6*r;
const xViolin=(col,v)=>colLeft(col)+2.6+55*v;
const VIOLIN_HALF=26.8;
function violinPath(col,row,pts){
  const top=pts.map(p=>xViolin(col,p[0]).toFixed(2)+','+(rowY(row)-p[1]*VIOLIN_HALF).toFixed(2));
  const bottom=pts.slice().reverse().map(p=>xViolin(col,p[0]).toFixed(2)+','+(rowY(row)+p[1]*VIOLIN_HALF).toFixed(2));
  return 'M'+top.join('L')+'L'+bottom.join('L')+'Z';
}
violinRowNames.forEach((rowName,r)=>{
  const tick=add(panelC,'line',{x1:149.6,x2:156,y1:rowY(r),y2:rowY(r),stroke:'#333','stroke-width':1.5});
  
  
  const lb=add(panelC,'text',{x:144,y:rowY(r)+8.5,'text-anchor':'end','font-size':25.6},rowName);
  
  
  geneNames.forEach((gene,c)=>{
    const shape=violinShapes[r+'-'+c];
    const th=spikeThickness[r];
    const end=violinMax[r][c];
    const pts=shape||(end>0?[[-th/2,0.97],[th/4,1],[th,0.9],[th*1.3,0.022],[end,0.02]]:[[-th/2,0.97],[th/4,1],[th,0.9],[th*1.3,0.012]]);
    const v=add(panelC,'path',{d:violinPath(c,r,pts),fill:violinRowColors[r],'fill-opacity':shape?1:0.72});
    
    
  });
});
geneNames.forEach((gene,c)=>{
  const box=add(panelC,'rect',{x:colLeft(c),y:494,width:57.68,height:95,fill:'none',stroke:'#FF1414','stroke-width':1.4});
  
  
  const lb=add(panelC,'text',{'class':'gene',transform:'translate('+(colLeft(c)+36.6)+',541.9) rotate(-90)'},gene);
  
  
  if(c>0){
    const d=add(panelC,'line',{x1:colLeft(c),x2:colLeft(c),y1:596,y2:905,stroke:'#333','stroke-width':2.1});
    
    
  }
});
const frame=add(panelC,'rect',{x:156.4,y:596,width:519.1,height:308.6,fill:'none',stroke:'#444','stroke-width':1.1});



// ---------- boxplot panel ----------
const panelD=document.getElementById('panelD');
const yBox=v=>850-113.1*v;
const xCat=i=>844+112.9*i;
const BOX_W=38.5, DODGE=21;
const XLABEL_NUDGE=[-3,-8,3,-3,-2];
const XLABEL_RAISE=[0,0,0,2,0];
const plotBg=add(panelD,'rect',{x:777,y:493,width:586.4,height:374,fill:'#EBEBEB'});


boxMinorTicks.forEach(t=>{
  const g=add(panelD,'line',{x1:777,x2:1363.4,y1:yBox(t),y2:yBox(t),stroke:'#fff','stroke-width':1});
  
  
});
boxMajorTicks.forEach(t=>{
  const g=add(panelD,'line',{x1:777,x2:1363.4,y1:yBox(t),y2:yBox(t),stroke:'#fff','stroke-width':2});
  
  
  const tk=add(panelD,'line',{x1:770,x2:777,y1:yBox(t),y2:yBox(t),stroke:'#333','stroke-width':1.5});
  
  
  const lb=add(panelD,'text',{x:766,y:yBox(t)+7.5,'text-anchor':'end','font-size':21,style:'fill:#4d4d4d'},String(t));
  
  
});
boxCategories.forEach((cat,i)=>{
  const g=add(panelD,'line',{x1:xCat(i),x2:xCat(i),y1:493,y2:867,stroke:'#fff','stroke-width':1.5});
  
  
  const tk=add(panelD,'line',{x1:xCat(i),x2:xCat(i),y1:872,y2:878,stroke:'#333','stroke-width':1.5});
  
  
  const lb=add(panelD,'text',{x:xCat(i)+XLABEL_NUDGE[i],y:900-XLABEL_RAISE[i],'text-anchor':'middle','font-size':21.5},cat);
  
  
});
function drawBoxes(side,color,q1,med,q3,hi,lo,outs,groupName){
  boxCategories.forEach((cat,i)=>{
    const cx=xCat(i)+side*DODGE;
    const g=add(panelD,'g',{});
    
    
    add(g,'line',{x1:cx,x2:cx,y1:yBox(hi[i]),y2:yBox(q3[i]),stroke:'#333','stroke-width':1.9});
    add(g,'line',{x1:cx,x2:cx,y1:yBox(lo[i]),y2:yBox(q1[i]),stroke:'#333','stroke-width':1.9});
    add(g,'rect',{x:cx-BOX_W/2,y:yBox(q3[i]),width:BOX_W,height:yBox(q1[i])-yBox(q3[i]),fill:color,stroke:'#333','stroke-width':1.9});
    add(g,'line',{x1:cx-BOX_W/2,x2:cx+BOX_W/2,y1:yBox(med[i]),y2:yBox(med[i]),stroke:'#2b2b2b','stroke-width':4.4});
    outs[i].forEach(o=>{
      const dot=add(g,'circle',{cx:cx,cy:yBox(o),r:4.6,fill:'#666'});
      
      
    });
  });
}
drawBoxes(-1,boxGroupColors[0],q1Blue,medianBlue,q3Blue,whiskerHighBlue,whiskerLowBlue,outliersBlue,boxGroups[0]);
drawBoxes(1,boxGroupColors[1],q1Orange,medianOrange,q3Orange,whiskerHighOrange,whiskerLowOrange,outliersOrange,boxGroups[1]);
significance.forEach((s,i)=>{
  const t=add(panelD,'text',{x:xCat(i)+0.5,y:s==='ns'?510:516,'text-anchor':'middle','font-size':27},s);
  
  
});
const legendBg=add(panelD,'rect',{x:1383.7,y:661,width:34.3,height:73,fill:'#F2F2F2'});


boxGroups.forEach((name,i)=>{
  const top=670.8+35.9*i;
  const g=add(panelD,'g',{});
  
  
  add(g,'line',{x1:1400.3,x2:1400.3,y1:top-7,y2:top+25.5,stroke:'#333','stroke-width':1.5});
  add(g,'rect',{x:1387,y:top,width:26.4,height:18.5,fill:boxGroupColors[i],stroke:'#333','stroke-width':1.9});
  add(g,'line',{x1:1387,x2:1413.4,y1:top+9.2,y2:top+9.2,stroke:'#2b2b2b','stroke-width':2.4});
  const lb=add(panelD,'text',{x:1420,y:top+17.5,'font-size':23.6},name);
  
  
});
</script>
</body>
</html>
